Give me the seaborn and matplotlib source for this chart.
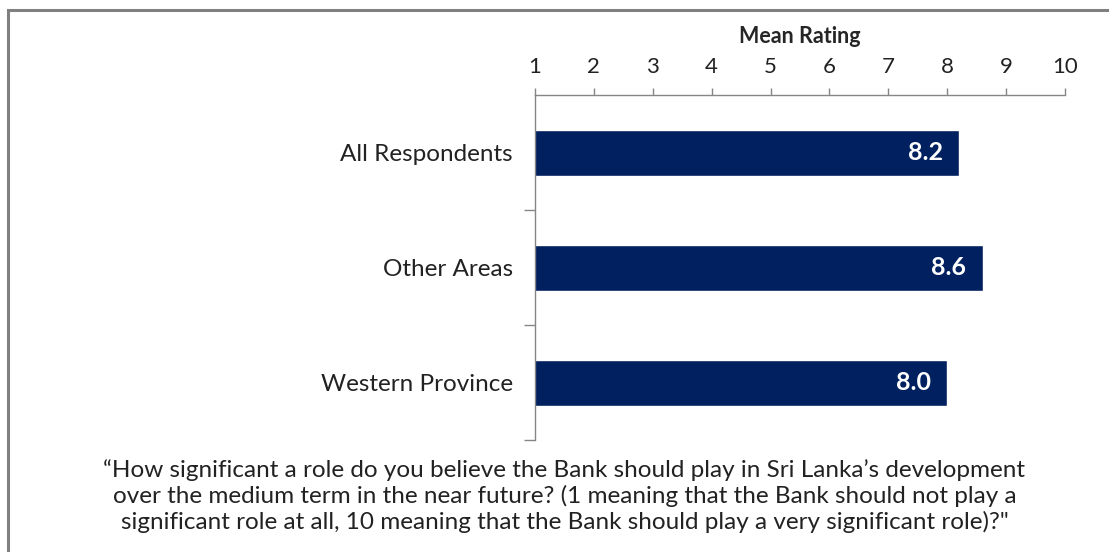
from matplotlib import pyplot as plt
from matplotlib.patches import Rectangle
import seaborn as sns
import pandas as pd

groups = ["All Respondents", "Other Areas", "Western Province"]
mean_rating = [8.2, 8.6, 8.0]
x_ticks = [1, 2, 3, 4, 5, 6, 7, 8, 9, 10]
caption = ("\u201cHow significant a role do you believe the Bank should play in Sri Lanka\u2019s development\n"
           "over the medium term in the near future? (1 meaning that the Bank should not play a\n"
           "significant role at all, 10 meaning that the Bank should play a very significant role)?\"")

df = pd.DataFrame({"Group": groups, "Mean Rating": mean_rating})

sns.set_style("white")
plt.rcParams["font.family"] = ["Lato", "DejaVu Sans"]

fig = plt.figure(figsize=(11.09, 5.52), dpi=100)
ax = fig.add_axes([535 / 1109, 1 - 440 / 552, 530 / 1109, 345 / 552])

sns.barplot(data=df, x="Mean Rating", y="Group", orient="h", color="#002060",
            width=0.4, saturation=1, ax=ax)

ax.set_xlim(1, 10)
ax.set_ylim(2.5, -0.5)
ax.set_xticks(x_ticks)
ax.xaxis.tick_top()
ax.xaxis.set_label_position("top")
ax.set_xlabel("Mean Rating", fontsize=15.5, fontweight="bold", labelpad=10)
ax.set_ylabel("")
ax.tick_params(axis="x", direction="out", length=5, width=1, color="#868686",
               labelsize=16, pad=8, labelcolor="#222222")
ax.tick_params(axis="y", which="major", length=0, labelsize=17.5, pad=16,
               labelcolor="#222222")
ax.set_yticks([0.5, 1.5, 2.5], minor=True)
ax.tick_params(axis="y", which="minor", direction="out", length=8, width=1,
               color="#868686", left=True)

for s in ["right", "bottom"]:
    ax.spines[s].set_visible(False)
for s in ["top", "left"]:
    ax.spines[s].set_color("#868686")
    ax.spines[s].set_linewidth(1)

for i, v in enumerate(mean_rating):
    ax.text(v - 0.28, i, f"{v:.1f}", color="white", fontsize=18, fontweight="bold",
            ha="right", va="center")

fig.text(0.509, 1 - 496 / 552, caption, ha="center", va="center", fontsize=17.5,
         color="#222222", linespacing=1.22)

fig.patches.append(Rectangle((8 / 1109, -0.5), 2, 0.5 + 1 - 10 / 552,
                             transform=fig.transFigure, fill=False,
                             edgecolor="#808080", linewidth=2.2))

fig.savefig("out.png", dpi=100)
